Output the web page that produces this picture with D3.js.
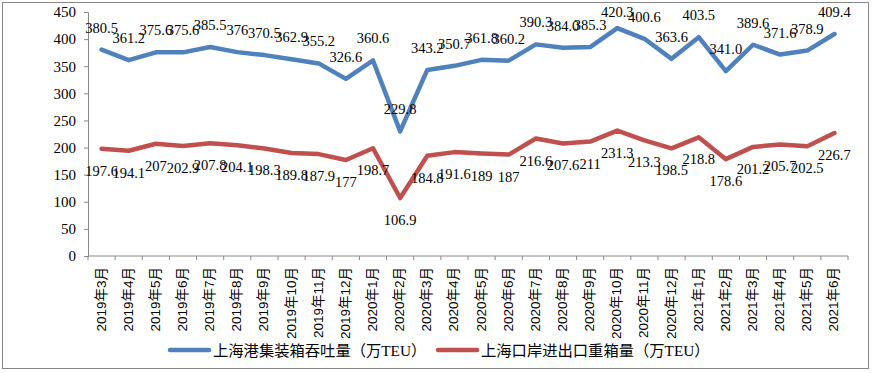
<!DOCTYPE html>
<html><head><meta charset="utf-8">
<script src="https://cdn.jsdelivr.net/npm/d3@7"></script>
<style>body{margin:0;background:#fff}svg{display:block}</style>
</head><body>
<svg id="c" width="874" height="373"></svg>
<script>
const categories = ["2019年3月","2019年4月","2019年5月","2019年6月","2019年7月","2019年8月","2019年9月","2019年10月","2019年11月","2019年12月",
"2020年1月","2020年2月","2020年3月","2020年4月","2020年5月","2020年6月","2020年7月","2020年8月","2020年9月","2020年10月","2020年11月","2020年12月",
"2021年1月","2021年2月","2021年3月","2021年4月","2021年5月","2021年6月"];
const throughputLabels = ["380.5","361.2","375.6","375.6","385.5","376","370.5","362.9","355.2","326.6","360.6","229.8","343.2","350.7","361.8","360.2","390.3","384.0","385.3","420.3","400.6","363.6","403.5","341.0","389.6","371.6","378.9","409.4"];
const throughput = throughputLabels.map(Number);
const loadedLabels = ["197.6","194.1","207","202.9","207.8","204.1","198.3","189.8","187.9","177","198.7","106.9","184.8","191.6","189","187","216.6","207.6","211","231.3","213.3","198.5","218.8","178.6","201.2","205.7","202.5","226.7"];
const loaded = loadedLabels.map(Number);
const yTicks = [0,50,100,150,200,250,300,350,400,450];
const seriesNames = ["上海港集装箱吞吐量（万TEU）","上海口岸进出口重箱量（万TEU）"];
const colors = ["#4f81bd","#c0504d"];

(function(){
const svg = d3.select("#c");
svg.append("rect").attr("x",2.5).attr("y",2.5).attr("width",866).attr("height",366)
  .attr("fill","#fff").attr("stroke","#888").attr("stroke-width",1);

const pL = 88, pR = 848, pT = 12, pB = 256;
const x = d3.scaleBand().domain(categories).range([pL,pR]).paddingInner(0).paddingOuter(0);
const y = d3.scaleLinear().domain([0,450]).range([pB,pT]);
const cx = d => x(d) + x.bandwidth()/2;

const serif = "'Liberation Serif','Times New Roman',serif";
const cjk = "'Liberation Serif','Noto Sans CJK SC',serif";
const sans = "'Liberation Sans','Noto Sans CJK SC',sans-serif";

// Y axis
const yAxis = svg.append("g").attr("transform",`translate(${pL},0)`)
  .call(d3.axisLeft(y).tickValues(yTicks).tickSize(4).tickPadding(8).tickFormat(d3.format("d")));
yAxis.select(".domain").attr("stroke","#888");
yAxis.selectAll(".tick line").attr("stroke","#888");
yAxis.selectAll("text").attr("font-family",serif).attr("font-size",15).attr("fill","#000");

// X axis
const xg = svg.append("g").attr("transform",`translate(0,${pB})`);
xg.append("line").attr("x1",pL).attr("x2",pR).attr("stroke","#888");
const bounds = categories.map(c => x(c)).concat([pR]);
xg.selectAll("line.t").data(bounds).join("line").attr("class","t")
  .attr("x1",d=>d).attr("x2",d=>d).attr("y1",0).attr("y2",4).attr("stroke","#888");
xg.selectAll("text").data(categories).join("text")
  .attr("transform",d=>`translate(${cx(d)+4},11) rotate(-90)`)
  .attr("text-anchor","end")
  .attr("font-family",sans).attr("font-size",13.5).attr("fill","#000")
  .text(d=>d);

// Lines
const line = vals => d3.line().x((d,i)=>cx(categories[i])).y(d=>y(d))(vals);
svg.append("path").attr("d",line(throughput)).attr("fill","none").attr("stroke",colors[0])
  .attr("stroke-width",4.5).attr("stroke-linejoin","round").attr("stroke-linecap","round");
svg.append("path").attr("d",line(loaded)).attr("fill","none").attr("stroke",colors[1])
  .attr("stroke-width",4.5).attr("stroke-linejoin","round").attr("stroke-linecap","round");

// Labels
svg.append("g").selectAll("text").data(throughput).join("text")
  .attr("x",(d,i)=>cx(categories[i])).attr("y",d=>Math.max(y(d)-17,17))
  .attr("text-anchor","middle").attr("font-family",serif).attr("font-size",14.5).attr("fill","#000")
  .text((d,i)=>throughputLabels[i]);
svg.append("g").selectAll("text").data(loaded).join("text")
  .attr("x",(d,i)=>cx(categories[i])).attr("y",d=>y(d)+27)
  .attr("text-anchor","middle").attr("font-family",serif).attr("font-size",14.5).attr("fill","#000")
  .text((d,i)=>loadedLabels[i]);

// Legend
const legX = [170, 438];
const lg = svg.append("g");
seriesNames.forEach((n,i)=>{
  lg.append("line").attr("x1",legX[i]).attr("x2",legX[i]+39).attr("y1",350).attr("y2",350)
    .attr("stroke",colors[i]).attr("stroke-width",4.5).attr("stroke-linecap","round");
  lg.append("text").attr("x",legX[i]+43).attr("y",355.5)
    .attr("font-family",cjk).attr("font-size",15.3).attr("fill","#000").text(n);
});
})();
</script>
</body></html>
